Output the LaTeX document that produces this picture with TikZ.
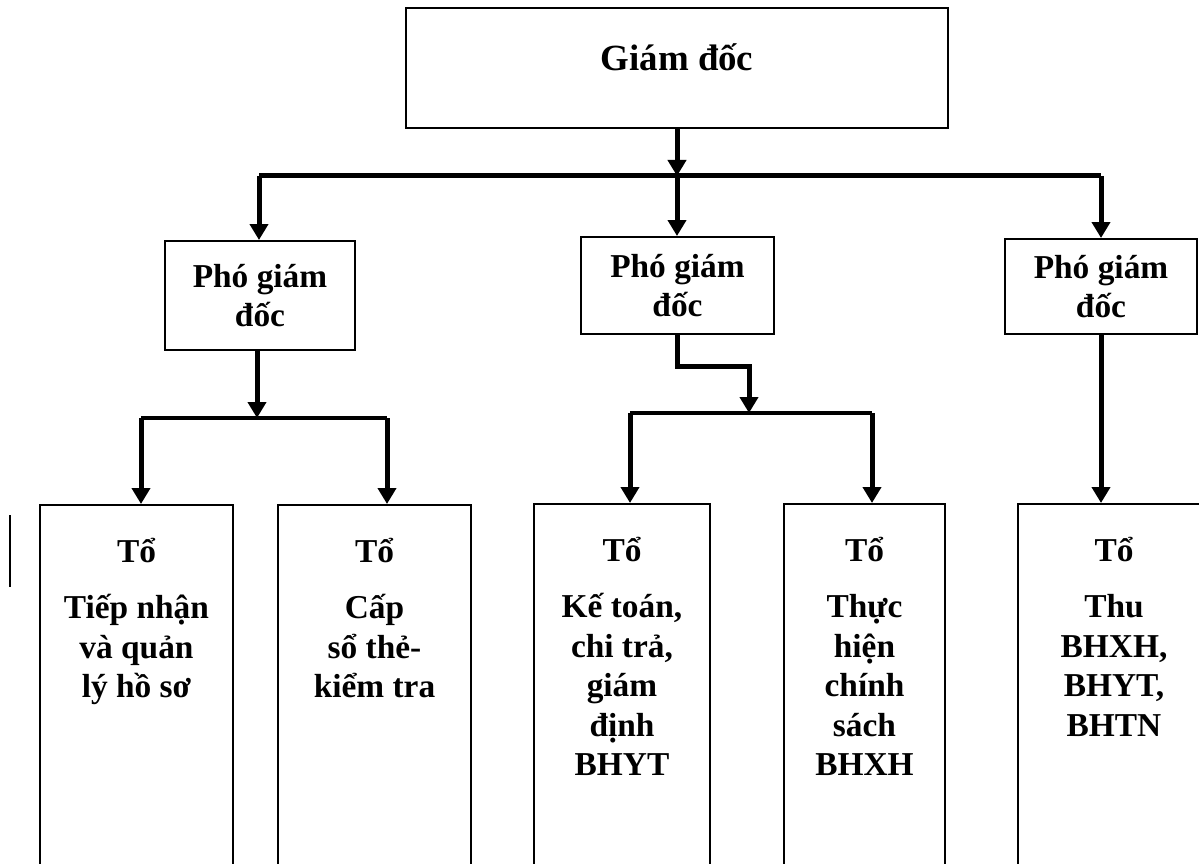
\documentclass[tikz,border=0pt]{standalone}
\usepackage{fontspec}
\setmainfont{Liberation Serif}
\usetikzlibrary{positioning,arrows.meta}

\begin{document}
\begin{tikzpicture}[x=0.02cm,y=-0.02cm,>={Triangle[length=0.32cm,width=0.36cm]},
  orgbox/.style={draw,line width=0.04cm,inner sep=0pt,align=center,font=\bfseries\fontsize{19}{22.5}\selectfont},
  tobox/.style={draw,line width=0.04cm,anchor=north,minimum height=8cm},
  totext/.style={inner sep=0pt,align=center,font=\bfseries\fontsize{19}{22.5}\selectfont},
  link/.style={line width=0.1cm},
  arr/.style={link,->}]
\useasboundingbox (0,0) rectangle (1199,864);
\clip (0,0) rectangle (1199,864);

% director and deputies
\node[orgbox,font=\bfseries\fontsize{21}{25}\selectfont,minimum width=10.84cm,minimum height=2.4cm,text height=0.58cm,text depth=0.46cm] (gd) at (677,68) {Giám đốc};
\node[orgbox,minimum width=3.8cm,minimum height=2.18cm] (pgd1) at (260,295.5) {Phó giám\\đốc};
\node[orgbox,minimum width=3.86cm,minimum height=1.94cm] (pgd2) at (677.5,285.5) {Phó giám\\đốc};
\node[orgbox,minimum width=3.84cm,minimum height=1.9cm] (pgd3) at (1101,286.5) {Phó giám\\đốc};

% teams
\node[tobox,minimum width=3.86cm] (t1) at (136.5,504) {};
\node[tobox,minimum width=3.86cm] (t2) at (374.5,504) {};
\node[tobox,minimum width=3.52cm] (t3) at (622,503) {};
\node[tobox,minimum width=3.22cm] (t4) at (864.5,503) {};
\node[tobox,minimum width=3.84cm] (t5) at (1114,503) {};
\node[totext,below=0.68cm of t1.north] (t1x) {Tổ\\[9.4pt]Tiếp nhận\\và quản\\lý hồ sơ};
\node[totext,below=0.68cm of t2.north] (t2x) {Tổ\\[9.4pt]Cấp\\sổ thẻ-\\kiểm tra};
\node[totext,below=0.68cm of t3.north] (t3x) {Tổ\\[9.4pt]Kế toán,\\chi trả,\\giám\\định\\BHYT};
\node[totext,below=0.68cm of t4.north] (t4x) {Tổ\\[9.4pt]Thực\\hiện\\chính\\sách\\BHXH};
\node[totext,below=0.68cm of t5.north] (t5x) {Tổ\\[9.4pt]Thu\\BHXH,\\BHYT,\\BHTN};

% bars
\coordinate (barL) at (259,176);
\coordinate (barM) at (677,176);
\coordinate (barR) at (1101,176);
\coordinate (b1L) at (141,418);
\coordinate (b1M) at (257,418);
\coordinate (b1R) at (387,418);
\coordinate (b2L) at (630,413);
\coordinate (b2M) at (749,413);
\coordinate (b2R) at (872,413);

\draw[link] (barL) -- (barR);
\draw[link] (b1L) -- (b1R);
\draw[link] (b2L) -- (b2R);

\draw[arr] (gd.south) -- (barM);
\draw[arr] (barL) -- (barL |- pgd1.north);
\draw[arr] (barM) -- (barM |- pgd2.north);
\draw[arr] (barR) -- (barR |- pgd3.north);

\draw[arr] (b1M |- pgd1.south) -- (b1M);
\draw[arr] (b1L) -- (b1L |- t1.north);
\draw[arr] (b1R) -- (b1R |- t2.north);

\draw[arr] (pgd2.south) -- ++(0,32) -| (b2M);
\draw[arr] (b2L) -- (b2L |- t3.north);
\draw[arr] (b2R) -- (b2R |- t4.north);

\draw[arr] (pgd3.south) -- (pgd3.south |- t5.north);

\draw[line width=0.03cm] (10,515) -- (10,587);
\end{tikzpicture}
\end{document}
